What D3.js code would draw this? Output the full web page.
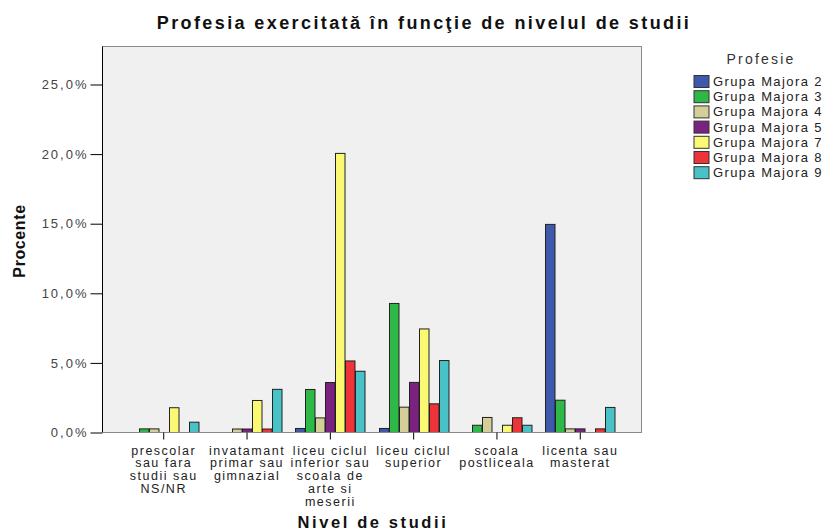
<!DOCTYPE html>
<html><head><meta charset="utf-8">
<script src="https://cdn.jsdelivr.net/npm/d3@7"></script>
<style>
body{margin:0;background:#fff;}
text{font-family:"Liberation Sans",Arial,sans-serif;}
</style></head>
<body><svg id="c" width="825" height="532"></svg>
<script>
const categories = [
  ["prescolar","sau fara","studii sau","NS/NR"],
  ["invatamant","primar sau","gimnazial"],
  ["liceu ciclul","inferior sau","scoala de","arte si","meserii"],
  ["liceu ciclul","superior"],
  ["scoala","postliceala"],
  ["licenta sau","masterat"]
];
const seriesNames = ["Grupa Majora 2","Grupa Majora 3","Grupa Majora 4","Grupa Majora 5","Grupa Majora 7","Grupa Majora 8","Grupa Majora 9"];
const colors = ["#3E58AC","#2EB848","#D4CF98","#7B2281","#FBF873","#EE3339","#48C2C6"];
// values in % per series, one per category
const g2 = [0, 0, 0.29, 0.29, 0, 14.95];
const g3 = [0.26, 0, 3.09, 9.27, 0.52, 2.32];
const g4 = [0.26, 0.25, 1.05, 1.82, 1.08, 0.26];
const g5 = [0, 0.25, 3.59, 3.6, 0, 0.26];
const g7 = [1.78, 2.3, 20.05, 7.44, 0.52, 0];
const g8 = [0, 0.25, 5.14, 2.06, 1.06, 0.26];
const g9 = [0.74, 3.1, 4.4, 5.17, 0.52, 1.8];
const series = [g2,g3,g4,g5,g7,g8,g9];
const yTicks = [0,5,10,15,20,25];

const svg = d3.select("#c");
const L=102.5, R=641.5, T=46.5, B=432.5;
const catIdx = categories.map((d,i)=>i);
const x0 = d3.scaleBand().domain(catIdx).range([L,R]).paddingInner(0.16).paddingOuter(0.315);
const x1 = d3.scaleBand().domain(seriesNames.map((d,i)=>i)).range([0,x0.bandwidth()]);
const y = d3.scaleLinear().domain([0,25]).range([B,84.5]);

// plot background
svg.append("rect").attr("x",L).attr("y",T).attr("width",R-L).attr("height",B-T)
  .attr("fill","#F0F0F0").attr("stroke","#8a8a8a").attr("stroke-width",1);

// bars
series.forEach((vals,si)=>{
  svg.append("g").selectAll("rect").data(vals).join("rect")
    .attr("x",(d,ci)=>Math.round(x0(ci)+x1(si))+0.5)
    .attr("y",d=>y(d))
    .attr("width",x1.bandwidth()-0.5)
    .attr("height",d=>B-y(d))
    .attr("fill",colors[si])
    .attr("stroke","#222").attr("stroke-width",1);
});

// y axis
const ya = svg.append("g").attr("transform",`translate(${L},0)`)
  .call(d3.axisLeft(y).tickValues(yTicks).tickSize(12).tickPadding(2)
     .tickFormat(d=>d.toFixed(1).replace(".",",")+"%"));
ya.select(".domain").attr("stroke","#000").attr("d",`M0,${T}V${B}`);
ya.selectAll(".tick line").attr("stroke","#000");
ya.selectAll("text").attr("font-size",13).attr("fill","#444").attr("letter-spacing","2px")
  .attr("font-family","Liberation Sans, Arial, sans-serif");

// x axis
const xa = svg.append("g").attr("transform",`translate(0,${B})`)
  .call(d3.axisBottom(x0).tickSize(7).tickFormat(""));
xa.select(".domain").attr("stroke","#8a8a8a").attr("d",`M${L},0H${R}`);
xa.selectAll(".tick line").attr("stroke","#000");
xa.selectAll(".tick").each(function(ci){
  const t = d3.select(this).append("text").attr("fill","#222").attr("font-size",12.5)
    .attr("letter-spacing","1.5px").attr("text-anchor","middle")
    .attr("font-family","Liberation Sans, Arial, sans-serif");
  categories[ci].forEach((line,li)=>{
    t.append("tspan").attr("x",0).attr("y",22+li*12.9).text(line);
  });
});

// title
svg.append("text").attr("x",424).attr("y",29).attr("text-anchor","middle")
  .attr("font-size",18).attr("font-weight","bold").attr("letter-spacing","2.4px")
  .attr("fill","#111").text("Profesia exercitată în funcţie de nivelul de studii");
// axis titles
svg.append("text").attr("x",373).attr("y",528).attr("text-anchor","middle")
  .attr("font-size",16.5).attr("font-weight","bold").attr("letter-spacing","2.6px")
  .attr("fill","#111").text("Nivel de studii");
svg.append("text").attr("transform","translate(25,241) rotate(-90)").attr("text-anchor","middle")
  .attr("font-size",16).attr("font-weight","bold").attr("letter-spacing","0.6px")
  .attr("fill","#111").text("Procente");

// legend
svg.append("text").attr("x",761).attr("y",64).attr("text-anchor","middle")
  .attr("font-size",14).attr("letter-spacing","2.2px").attr("fill","#333").text("Profesie");
const lg = svg.append("g").selectAll("g").data(seriesNames).join("g")
  .attr("transform",(d,i)=>`translate(694,${75.5+i*15.2})`);
lg.append("rect").attr("width",15).attr("height",12).attr("fill",(d,i)=>colors[i])
  .attr("stroke","#333").attr("stroke-width",1);
lg.append("text").attr("x",19).attr("y",10.5).attr("font-size",13).attr("letter-spacing","1.4px")
  .attr("fill","#222").text(d=>d);
</script></body></html>
